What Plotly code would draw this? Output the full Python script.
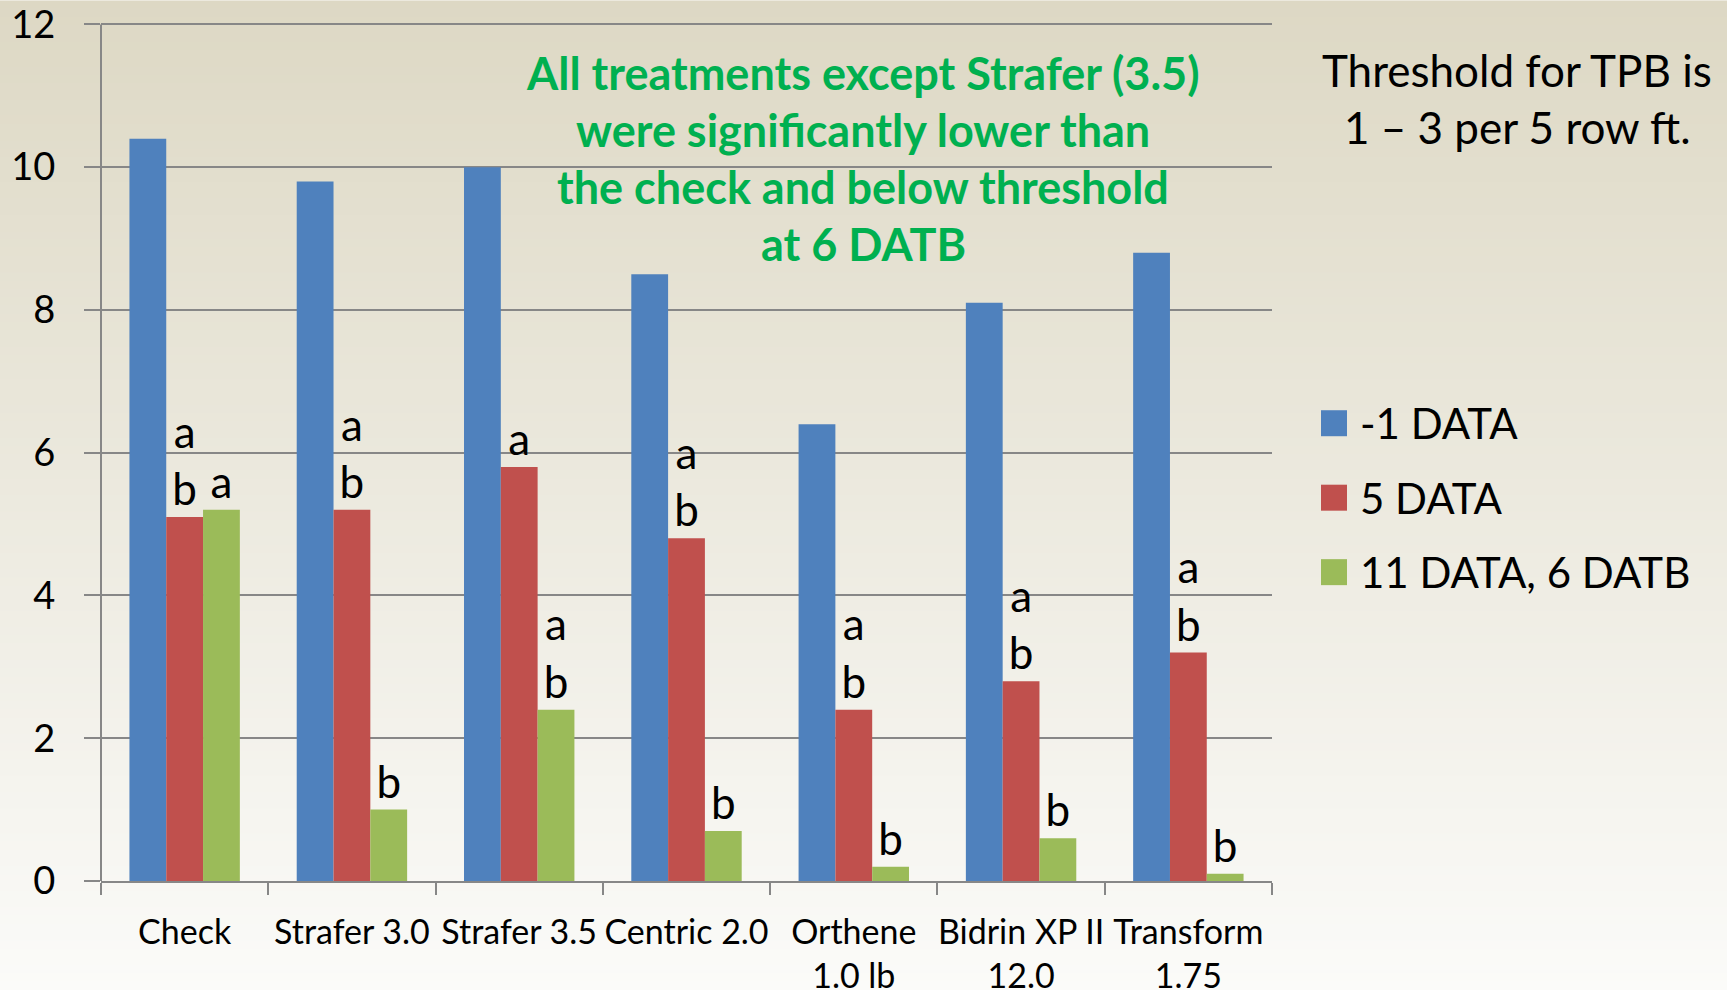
import plotly.graph_objects as go

categories = ["Check", "Strafer 3.0", "Strafer 3.5", "Centric 2.0",
              "Orthene<br>1.0 lb", "Bidrin XP II<br>12.0", "Transform<br>1.75"]
series_names = ["-1 DATA", "5 DATA", "11 DATA, 6 DATB"]
pre_data = [10.4, 9.8, 10.0, 8.5, 6.4, 8.1, 8.8]
data_5 = [5.1, 5.2, 5.8, 4.8, 2.4, 2.8, 3.2]
data_11 = [5.2, 1.0, 2.4, 0.7, 0.2, 0.6, 0.1]
letters_5 = ["a<br>b", "a<br>b", "a", "a<br>b", "a<br>b", "a<br>b", "a<br>b"]
letters_11 = ["a", "b", "a<br>b", "b", "b", "b", "b"]
note_lines = ["All treatments except Strafer (3.5)", "were significantly lower than",
              "the check and below threshold", "at 6 DATB"]
threshold_lines = ["Threshold for TPB is", "1 \u2013 3 per 5 row ft."]
y_ticks = [0, 2, 4, 6, 8, 10, 12]
Y_TOP_TICK = 12
Y_MAX = 12.3

colors = ["#4f81bd", "#c0504d", "#9bbb59"]
FONT = "Lato"
W, H = 1727, 990
# pixel rows of the 0 and 12 gridlines; plot extends a little above 12
Y0_PX, Y12_PX = 881, 24
unit = (Y0_PX - Y12_PX) / Y_TOP_TICK
ML, MR = 101, 455
MB = H - Y0_PX
MT = Y0_PX - unit * Y_MAX
PW, PH = W - ML - MR, H - MT - MB


def px_x(x):
    return (x - ML) / PW


def px_y(y):
    return 1 - (y - MT) / PH


fig = go.Figure()
series = [pre_data, data_5, data_11]
texts = [None, letters_5, letters_11]
for name, vals, col, txt in zip(series_names, series, colors, texts):
    fig.add_trace(go.Bar(
        x=categories, y=vals, name=name, marker=dict(color=col, line=dict(width=0)),
        text=txt, textposition="outside" if txt else "none", constraintext="none",
        textfont=dict(family=FONT, size=44, color="black"), cliponaxis=False,
        showlegend=False, hoverinfo="skip"))

grid = "#878787"

# background gradient (beige top -> near white bottom)
top = (221, 216, 196)
bot = (251, 251, 249)
n = 120
shapes = []
for i in range(n):
    f = (i + 0.5) / n
    c = tuple(round(top[k] + (bot[k] - top[k]) * f) for k in range(3))
    shapes.append(dict(
        type="rect", xref="paper", yref="paper", layer="below",
        x0=px_x(-5), x1=px_x(W + 5),
        y0=px_y(H * (i + 1) / n + 1), y1=px_y(H * i / n),
        fillcolor="rgb(%d,%d,%d)" % c, line=dict(width=0)))

# vertical axis line from 0 to the top tick
shapes.append(dict(type="line", xref="paper", yref="y", x0=0, x1=0, y0=0, y1=Y_TOP_TICK,
                   line=dict(color=grid, width=2), layer="above"))

annotations = []
for j, line in enumerate(note_lines):
    annotations.append(dict(
        x=px_x(863), y=px_y(73 + j * 57), xref="paper", yref="paper",
        text="<b>%s</b>" % line, showarrow=False, xanchor="center", yanchor="middle",
        font=dict(family=FONT, size=45, color="#00b050")))
for j, line in enumerate(threshold_lines):
    annotations.append(dict(
        x=px_x(1517), y=px_y(70 + j * 57), xref="paper", yref="paper",
        text=line, showarrow=False, xanchor="center", yanchor="middle",
        font=dict(family=FONT, size=44, color="black")))

# legend drawn as swatches + labels
for j, (name, col) in enumerate(zip(series_names, colors)):
    cy = 423 + j * 74.5
    shapes.append(dict(type="rect", xref="paper", yref="paper",
                       x0=px_x(1321), x1=px_x(1347), y0=px_y(cy + 13), y1=px_y(cy - 13),
                       fillcolor=col, line=dict(width=0)))
    annotations.append(dict(
        x=px_x(1358), y=px_y(cy), xref="paper", yref="paper", text=name,
        showarrow=False, xanchor="left", yanchor="middle",
        font=dict(family=FONT, size=42, color="black")))

fig.update_layout(
    width=W, height=H, margin=dict(l=ML, r=MR, t=MT, b=MB, autoexpand=False),
    paper_bgcolor="#fbfbf9", plot_bgcolor="rgba(0,0,0,0)",
    barmode="group", bargap=0.34, bargroupgap=0,
    shapes=shapes, annotations=annotations, showlegend=False,
    font=dict(family=FONT, color="black"),
    xaxis=dict(type="category", showline=True, linecolor=grid, linewidth=2,
               ticks="outside", tickson="boundaries", ticklen=12, tickwidth=2, tickcolor=grid,
               tickangle=0, ticklabeloverflow="allow",
               tickfont=dict(family=FONT, size=34, color="black"), ticklabelstandoff=20,
               showgrid=False),
    yaxis=dict(range=[0, Y_MAX], tickvals=y_ticks, showline=False,
               ticks="outside", ticklen=16, tickwidth=2, tickcolor=grid,
               showgrid=True, gridcolor=grid, gridwidth=2, zeroline=False,
               ticklabeloverflow="allow",
               tickfont=dict(family=FONT, size=38, color="black"), ticklabelstandoff=21),
)
fig.write_html("out.html", config={"displayModeBar": False},
               post_script="document.body.style.margin='0';document.body.style.overflow='hidden';")
